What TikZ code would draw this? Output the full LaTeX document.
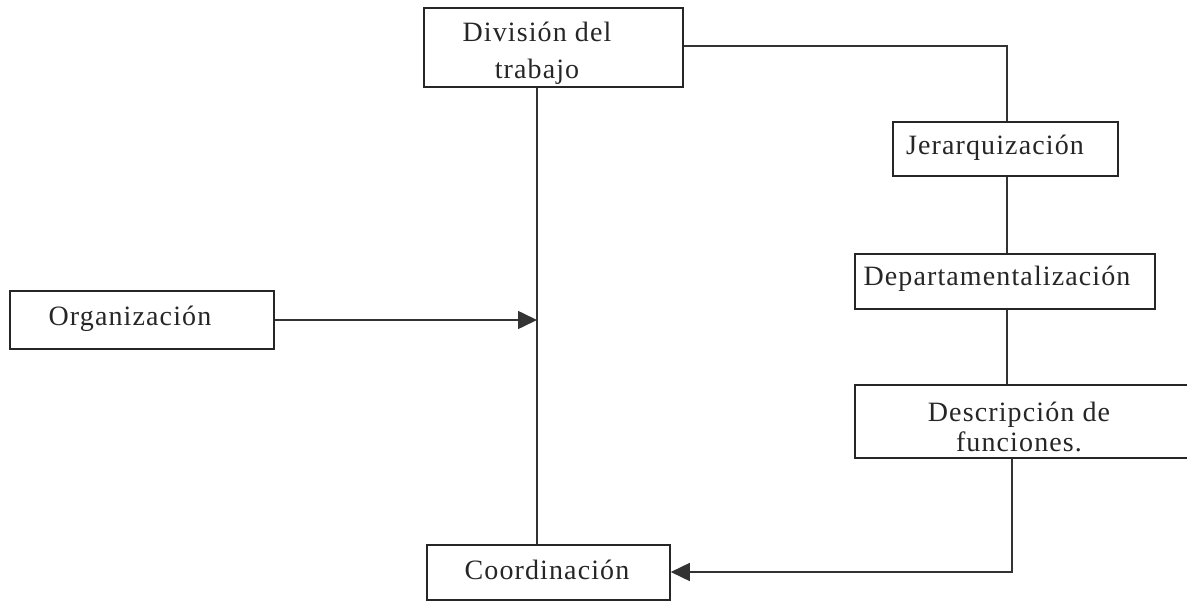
\documentclass[tikz,border=0pt]{standalone}
\usepackage{fontspec}
\setmainfont{Liberation Serif}
\newfontfamily\lblfont[LetterSpace=4]{Liberation Serif}
\usetikzlibrary{arrows.meta}
\begin{document}
\begin{tikzpicture}[x=1pt,y=-1pt,
  box/.style={draw=black!85, line width=1.6pt, inner sep=0pt},
  lbl/.style={font=\lblfont\fontsize{28}{37}\selectfont, inner sep=0pt, align=center, text=black!85},
  lbltight/.style={font=\lblfont\fontsize{28}{30}\selectfont, inner sep=0pt, align=center, text=black!85},
  conn/.style={draw=black!80, line width=1.6pt},
  tip/.style={-{Triangle[length=19pt,width=18pt]}}]
\useasboundingbox (0,0) rectangle (1187,602);
\clip (0,0) rectangle (1187,602);
\fill[white] (0,0) rectangle (1187,602);
% boxes
\node[box, minimum width=259pt, minimum height=79pt] (div) at (553.5,47.5) {};
\node[box, minimum width=225pt, minimum height=54pt] (jer) at (1005.5,149) {};
\node[box, minimum width=300pt, minimum height=55pt] (dep) at (1005,281.5) {};
\node[box, minimum width=345pt, minimum height=73pt] (desc) at (1027.5,421.5) {};
\node[box, minimum width=264pt, minimum height=58pt] (org) at (142,320) {};
\node[box, minimum width=243pt, minimum height=55pt] (coord) at (548.5,572.5) {};
% labels
\node[lbl] (divT) at (537,53) {División del\\trabajo};
\node[lbl] (jerT) at (995,148) {Jerarquización};
\node[lbl] (depT) at (997,279) {Departamentalización};
\node[lbltight] (descT) at (1019,427) {Descripción de\\funciones.};
\node[lbl] (orgT) at (130,319) {Organización};
\node[lbl] (coordT) at (547,570) {Coordinación};
% connectors
\coordinate (c1) at (1007,46);
\coordinate (c2) at (1012,572);
\coordinate (c3) at (537,0);
\draw[conn] (div.east |- c1) -- (c1) -- (c1 |- jer.north);
\draw[conn] (jer.south -| c1) -- (dep.north -| c1);
\draw[conn] (dep.south -| c1) -- (desc.north -| c1);
\draw[conn, tip] (desc.south -| c2) -- (c2) -- (coord.east |- c2);
\draw[conn] (div.south -| c3) -- (coord.north -| c3);
\draw[conn, tip] (org.east) -- (org.east -| c3);
\end{tikzpicture}
\end{document}
